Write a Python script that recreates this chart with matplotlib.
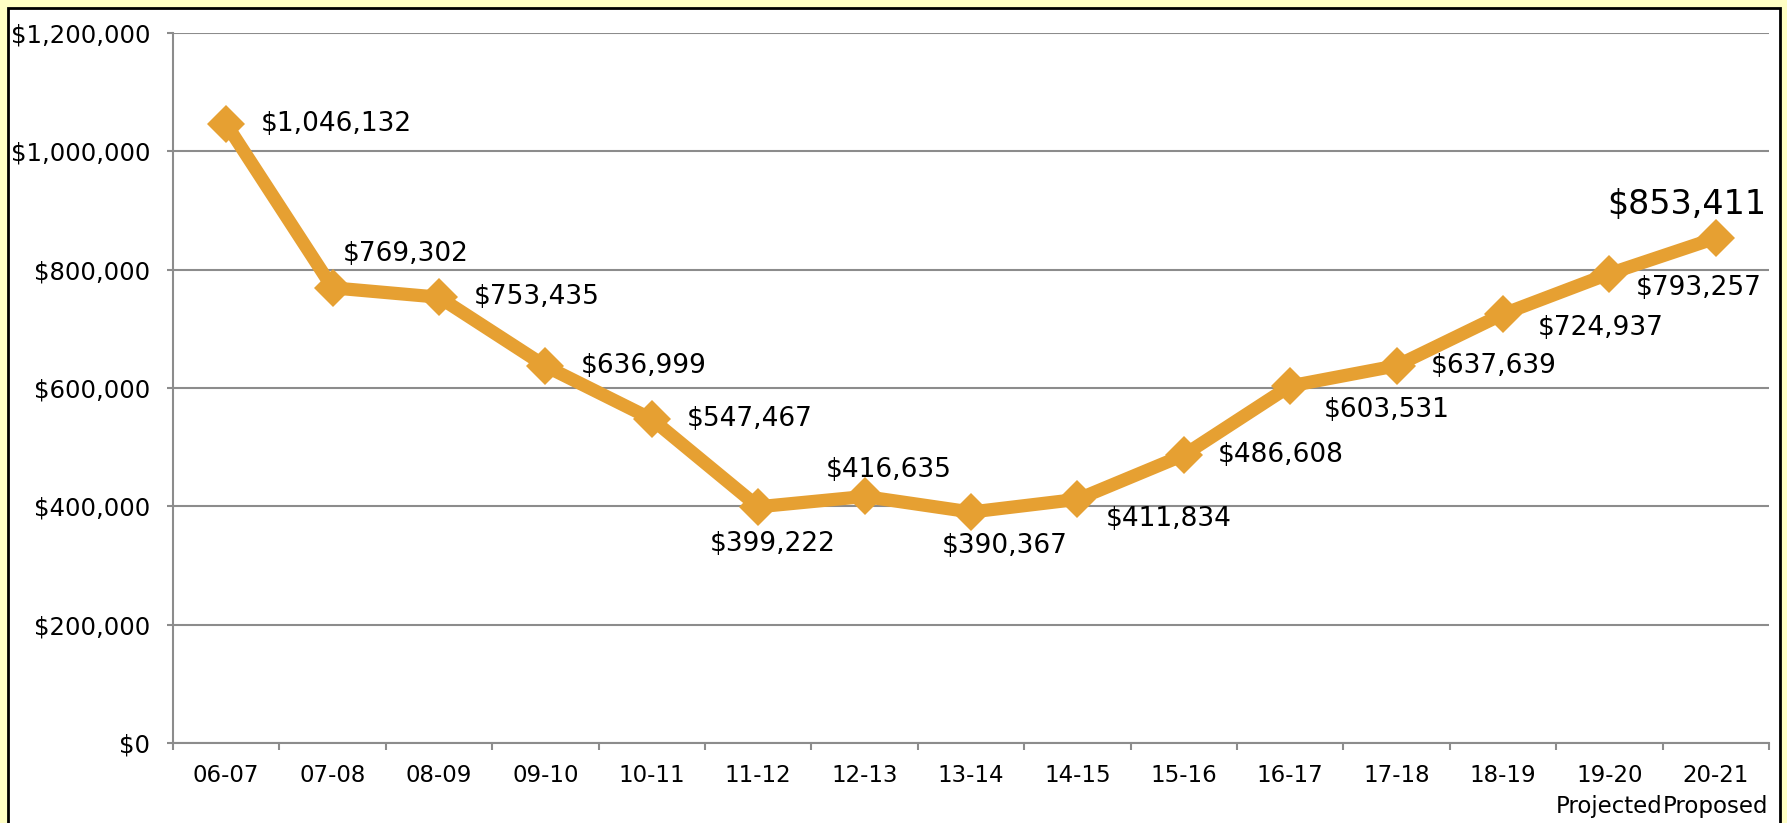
import matplotlib
matplotlib.use("Agg")
import matplotlib.pyplot as plt
from matplotlib.patches import Rectangle
from matplotlib.ticker import FuncFormatter, FixedLocator
import numpy as np

categories = ["06-07", "07-08", "08-09", "09-10", "10-11", "11-12", "12-13",
              "13-14", "14-15", "15-16", "16-17", "17-18", "18-19",
              "19-20\nProjected", "20-21\nProposed"]
values = [1046132, 769302, 753435, 636999, 547467, 399222, 416635,
          390367, 411834, 486608, 603531, 637639, 724937, 793257, 853411]
yticks = [0, 200000, 400000, 600000, 800000, 1000000, 1200000]

# label placement (pixel offsets from the point, horizontal alignment)
label_offsets = [(35, 0, "left"), (10, -34, "left"), (35, 0, "left"),
                 (35, 0, "left"), (35, 0, "left"), (14, 37, "center"),
                 (24, -26, "center"), (34, 34, "center"), (28, 20, "left"),
                 (34, 0, "left"), (34, 24, "left"), (34, 0, "left"),
                 (35, 14, "left"), (26, 14, "left"), (-29, -34, "center")]
label_sizes = [19] * 14 + [24]

W, H, DPI = 1787, 823, 100
plt.rcParams['font.family'] = ['DejaVu Sans']
fig = plt.figure(figsize=(W / DPI, H / DPI), dpi=DPI, facecolor="#FFFFC4")

# white chart frame with black border
frame = Rectangle((8 / W, -0.05), (1780 - 8) / W, 1.05 - 8 / H,
                  transform=fig.transFigure, facecolor="white",
                  edgecolor="black", linewidth=2.0, zorder=-10)
fig.patches.append(frame)

ax = fig.add_axes([173 / W, 1 - 743 / H, (1769 - 173) / W, (743 - 33) / H])
ax.set_facecolor("none")
ax.set_zorder(1)

x = np.arange(len(values))
line_color = "#E6A032"
ax.plot(x, values, color=line_color, linewidth=9.5, marker="D",
        markersize=19, markeredgewidth=0, solid_joinstyle="miter",
        zorder=5, clip_on=False)

for xi, v, (dx, dy, ha), fs in zip(x, values, label_offsets, label_sizes):
    ax.annotate(f"${v:,.0f}", (xi, v), xytext=(dx, -dy),
                textcoords="offset pixels", ha=ha, va="center",
                fontsize=fs, color="black", zorder=6)

ax.set_xlim(-0.5, len(values) - 0.5)
ax.set_ylim(0, 1200000)

grid_color = "#8C8C8C"
ax.set_yticks(yticks)
ax.yaxis.set_major_formatter(FuncFormatter(lambda v, p: f"${v:,.0f}"))
ax.grid(axis="y", color=grid_color, linewidth=1.5, zorder=1)
ax.set_axisbelow(True)

ax.xaxis.set_major_locator(FixedLocator(np.arange(len(values) + 1) - 0.5))
ax.xaxis.set_minor_locator(FixedLocator(x))
ax.set_xticklabels([], minor=False)
ax.set_xticklabels(categories, minor=True)
for lab in ax.get_xticklabels(minor=True):
    lab.set_linespacing(1.45)
ax.tick_params(axis="x", which="major", length=5, width=1.5,
               color=grid_color, direction="out")
ax.tick_params(axis="x", which="minor", length=0, pad=15, labelsize=16.5)
ax.tick_params(axis="y", length=4.5, width=1.5, color=grid_color,
               direction="out", pad=12, labelsize=17.6)

for s in ["top", "right"]:
    ax.spines[s].set_visible(False)
for s in ["left", "bottom"]:
    ax.spines[s].set_color(grid_color)
    ax.spines[s].set_linewidth(1.5)

fig.savefig("out.png", dpi=DPI, facecolor=fig.get_facecolor())
